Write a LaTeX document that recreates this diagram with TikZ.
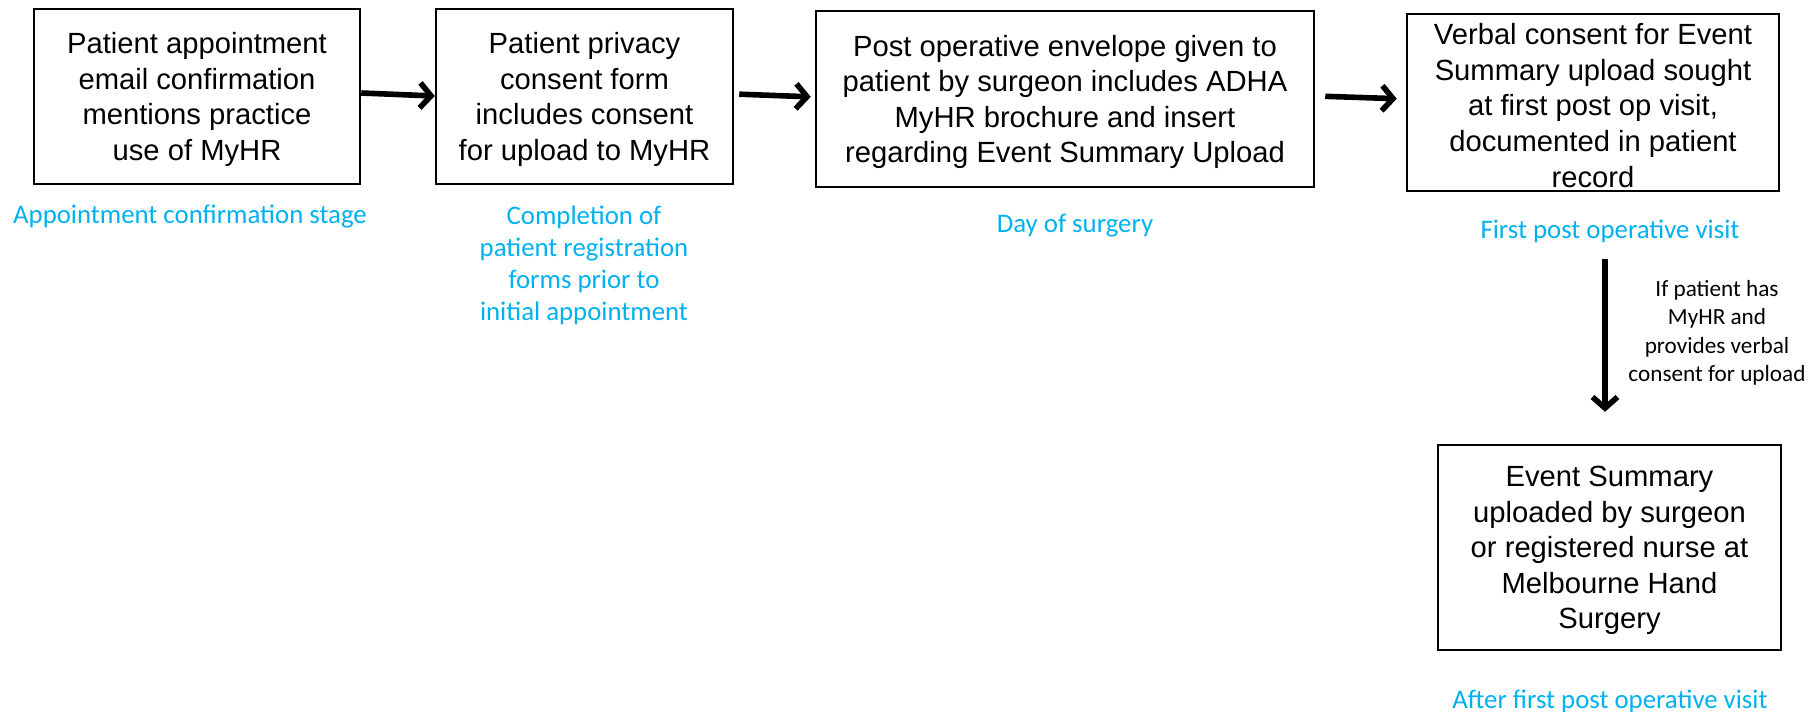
\documentclass[tikz,border=0pt]{standalone}
\usepackage{fontspec}
\setmainfont{Liberation Sans}
\newfontfamily\calib{Carlito}
\usetikzlibrary{arrows.meta}
\definecolor{lblue}{HTML}{00B0F0}
\begin{document}
\begin{tikzpicture}[x=0.5pt,y=-0.5pt,
  stagebox/.style={draw=black, line width=1.25pt, inner sep=0pt},
  boxtext/.style={align=center, inner sep=0pt, yshift=-1.5pt,
    font=\fontsize{14.6}{17.8}\selectfont},
  stagelbl/.style={text=lblue, align=center, inner sep=0pt,
    font=\calib\fontsize{13.4}{16}\selectfont},
  condlbl/.style={text=black, align=center, inner sep=0pt,
    font=\calib\fontsize{11.6}{14.25}\selectfont},
  flow/.style={line width=2.8pt, -{Straight Barb[length=5.5pt,width=12.5pt,line width=2.8pt]}}]
\useasboundingbox (0,0) rectangle (1816,712);
\node[stagebox, minimum width=163pt, minimum height=87.5pt] (b1) at (197,96.5) {};
\node[boxtext] (t1) at (b1) {Patient appointment\\email confirmation\\mentions practice\\use of MyHR};
\node[stagebox, minimum width=148.5pt, minimum height=87.5pt] (b2) at (584.5,96.5) {};
\node[boxtext] (t2) at (b2) {Patient privacy\\consent form\\includes consent\\for upload to MyHR};
\node[stagebox, minimum width=249pt, minimum height=88pt] (b3) at (1065,99) {};
\node[boxtext] (t3) at (b3) {Post operative envelope given to\\patient by surgeon includes ADHA\\MyHR brochure and insert\\regarding Event Summary Upload};
\node[stagebox, minimum width=186pt, minimum height=88.5pt] (b4) at (1593,102.5) {};
\node[boxtext] (t4) at (b4) {Verbal consent for Event\\Summary upload sought\\at first post op visit,\\documented in patient\\record};
\node[stagebox, minimum width=171.5pt, minimum height=102.5pt] (b5) at (1609.5,547.5) {};
\node[boxtext] (t5) at (b5) {Event Summary\\uploaded by surgeon\\or registered nurse at\\Melbourne Hand\\Surgery};
\node[stagelbl] (l1) at (190,217) {Appointment confirmation stage};
\node[stagelbl] (l2) at (584,265) {Completion of\\patient registration\\forms prior to\\initial appointment};
\node[stagelbl] (l3) at (1075,225.5) {Day of surgery};
\node[stagelbl] (l4) at (1610,231.5) {First post operative visit};
\node[stagelbl] (l5) at (1610,701.5) {After first post operative visit};
\node[condlbl] (c1) at (1717,333) {If patient has\\MyHR and\\provides verbal\\consent for upload};
\coordinate (ax) at (1605,0);
\draw[flow] ([yshift=1.75pt]b1.east) -- ([yshift=0.25pt]b2.west);
\draw[flow, shorten <=2.5pt, shorten >=2pt] ([yshift=1.25pt]b2.east) -- ([yshift=1pt]b3.west);
\draw[flow, shorten <=5pt, shorten >=4.5pt] ([yshift=1.5pt]b3.east) -- ([yshift=1.75pt]b4.west);
\draw[flow, shorten <=33.5pt, shorten >=16pt] (b4.south -| ax) -- (b5.north -| ax);
\end{tikzpicture}
\end{document}
